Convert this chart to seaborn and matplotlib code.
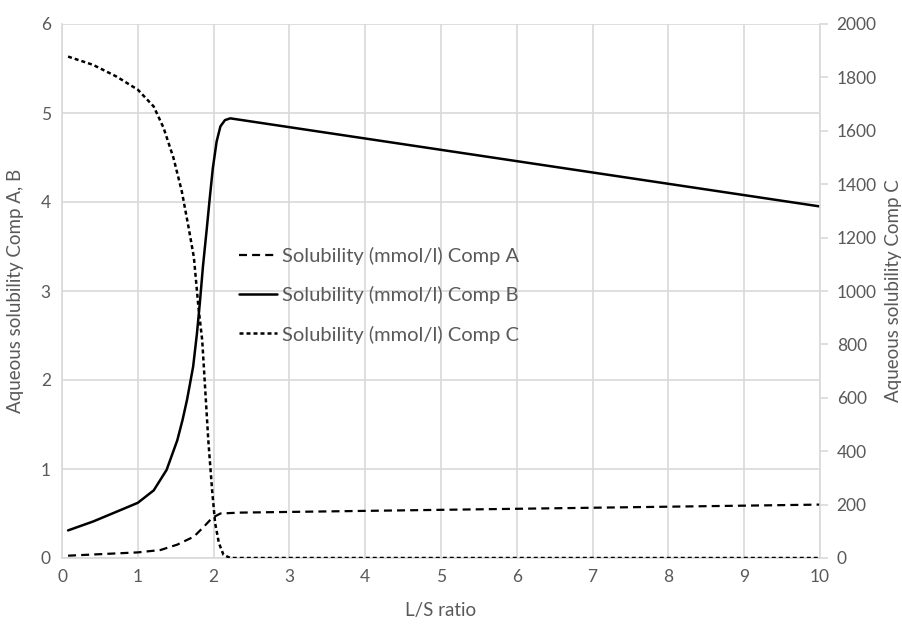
import matplotlib
matplotlib.use("Agg")
import matplotlib.pyplot as plt
import seaborn as sns
import pandas as pd

# L/S ratio vs. aqueous solubility readings
a_ls = [0.08, 1.0, 1.3, 1.52, 1.74, 1.87, 1.98, 2.09, 2.35, 10.0]
a_sol = [0.026, 0.063, 0.09, 0.15, 0.24, 0.35, 0.45, 0.50, 0.51, 0.60]

b_ls = [0.08, 0.41, 0.72, 1.0, 1.21, 1.38, 1.52, 1.59, 1.65, 1.73, 1.78,
        1.82, 1.86, 1.91, 1.95, 1.99, 2.04, 2.09, 2.15, 2.22, 10.0]
b_sol = [0.31, 0.41, 0.52, 0.62, 0.76, 0.99, 1.32, 1.55, 1.78, 2.15, 2.52,
         2.88, 3.28, 3.70, 4.05, 4.38, 4.68, 4.85, 4.92, 4.94, 3.95]

c_ls = [0.08, 0.41, 0.72, 1.0, 1.21, 1.34, 1.47, 1.58, 1.67, 1.74, 1.80,
        1.85, 1.89, 1.93, 1.98, 2.02, 2.07, 2.13, 2.22, 10.0]
c_sol = [1878, 1847, 1803, 1754, 1691, 1611, 1499, 1374, 1238, 1126, 939,
         815, 628, 441, 255, 131, 56, 12, 0, 0]

labels = ["Solubility (mmol/l) Comp A", "Solubility (mmol/l) Comp B",
          "Solubility (mmol/l) Comp C"]
x_ticks = list(range(0, 11))
left_ticks = list(range(0, 7))
right_ticks = list(range(0, 2001, 200))

sns.set_style("white")
plt.rcParams["font.family"] = ["Lato", "DejaVu Sans"]
text_color = "#595959"
grid_color = "#d9d9d9"

fig = plt.figure(figsize=(9.02, 6.24), dpi=100)
ax = fig.add_axes([62 / 902, 1 - 558 / 624, 758 / 902, 534 / 624])
ax2 = ax.twinx()

df_a = pd.DataFrame({"ls": a_ls, "sol": a_sol})
df_b = pd.DataFrame({"ls": b_ls, "sol": b_sol})
df_c = pd.DataFrame({"ls": c_ls, "sol": c_sol})

sns.lineplot(data=df_a, x="ls", y="sol", ax=ax, color="black", lw=1.6,
             sort=False, label=labels[0])
sns.lineplot(data=df_b, x="ls", y="sol", ax=ax, color="black", lw=1.8,
             sort=False, label=labels[1])
sns.lineplot(data=df_c, x="ls", y="sol", ax=ax2, color="black", lw=1.8,
             sort=False, label=labels[2])
ax.lines[0].set_dashes([3.6, 2.3])
ax2.lines[0].set_dashes([1.6, 1.2])
for ln in ax.lines + ax2.lines:
    ln.set_solid_joinstyle("round")
    ln.set_dash_joinstyle("round")

ax.set_xlim(0, 10)
ax.set_ylim(0, 6)
ax2.set_ylim(0, 2000)
ax.set_xticks(x_ticks)
ax.set_yticks(left_ticks)
ax2.set_yticks(right_ticks)

ax.grid(True, color=grid_color, lw=1.2)
ax.set_axisbelow(True)
for sp in ["top", "right"]:
    ax.spines[sp].set_visible(False)
for sp in ["left", "bottom"]:
    ax.spines[sp].set_color(grid_color)
    ax.spines[sp].set_linewidth(1.2)
for sp in ["top", "left", "bottom"]:
    ax2.spines[sp].set_visible(False)
ax2.spines["right"].set_color(grid_color)
ax2.spines["right"].set_linewidth(1.2)

tick_fs = 12.5
label_fs = 13.5
legend_fs = 14.5
ax.tick_params(axis="both", length=0, labelsize=tick_fs, labelcolor=text_color,
               pad=8)
ax2.tick_params(axis="y", length=6, width=1.2, color=grid_color,
                labelsize=tick_fs, labelcolor=text_color, pad=6)

ax.set_xlabel("L/S ratio", fontsize=label_fs, color=text_color, labelpad=12)
ax.set_ylabel("Aqueous solubility Comp A, B", fontsize=label_fs,
              color=text_color, labelpad=12)
ax2.set_ylabel("Aqueous solubility Comp C", fontsize=label_fs,
               color=text_color, labelpad=6)

h1, l1 = ax.get_legend_handles_labels()
h2, l2 = ax2.get_legend_handles_labels()
ax.get_legend().remove()
ax2.get_legend().remove()
leg = ax2.legend(h1 + h2, l1 + l2, loc="center left",
                 bbox_to_anchor=(0.233, 0.492), frameon=False,
                 fontsize=legend_fs, handlelength=1.9, handletextpad=0.25,
                 labelspacing=1.05, borderpad=0, borderaxespad=0)
for t in leg.get_texts():
    t.set_color(text_color)

fig.savefig("out.png", dpi=100)
